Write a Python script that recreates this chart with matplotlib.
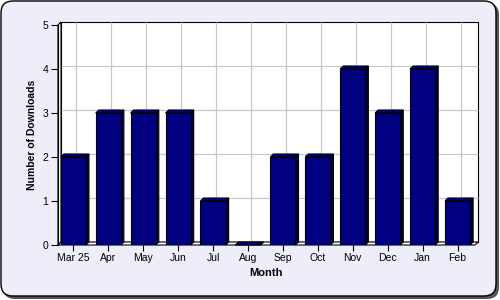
import matplotlib
matplotlib.use('Agg')
import matplotlib.pyplot as plt
from matplotlib.patches import FancyBboxPatch, Polygon, Rectangle
import numpy as np

# Data
months = ['Mar 25', 'Apr', 'May', 'Jun', 'Jul', 'Aug', 'Sep', 'Oct', 'Nov', 'Dec', 'Jan', 'Feb']
downloads = [2, 3, 3, 3, 1, 0, 2, 2, 4, 3, 4, 1]
y_ticks = [0, 1, 2, 3, 4, 5]

plt.rcParams['font.family'] = ['Liberation Sans', 'DejaVu Sans']

fig = plt.figure(figsize=(5, 3), dpi=100)

# rounded panel background with shadow
bg = fig.add_axes([0, 0, 1, 1])
bg.set_xlim(0, 500)
bg.set_ylim(300, 0)
bg.axis('off')
bg.add_patch(FancyBboxPatch((3, 3), 496, 296, boxstyle='round,pad=0,rounding_size=12',
                            fc='#555555', ec='none'))
bg.add_patch(FancyBboxPatch((1, 1), 495, 295, boxstyle='round,pad=0,rounding_size=12',
                            fc='#EEEEFB', ec='black', lw=1))

ax = fig.add_axes([58 / 500, 55 / 300, 417 / 500, 220 / 300])
ax.set_facecolor('none')
x = np.arange(len(months))
x0, x1 = -0.44, len(months) - 0.5
ax.set_xlim(x0, x1)
ax.set_ylim(0, 5)

# 3D depth offset (in data units, ~3px)
dx = 3 / 417 * (x1 - x0)
dy = 3 / 220 * 5

# back wall
ax.add_patch(Rectangle((x0 + dx, dy), x1 - x0, 5, fc='white', ec='black', lw=0.8,
                       zorder=0.5, clip_on=False))
ax.hlines(np.array(y_ticks[1:-1]) + dy, x0 + dx, x1 + dx, color='#C8C8C8', lw=0.9,
          zorder=0.8, clip_on=False)
ax.vlines(x + dx, dy, 5 + dy, color='#C8C8C8', lw=0.9, zorder=0.8, clip_on=False)
# left side wall
ax.add_patch(Polygon([(x0, 0), (x0 + dx, dy), (x0 + dx, 5 + dy), (x0, 5)], closed=True,
                     fc='white', ec='black', lw=0.8, zorder=1.5, clip_on=False))
# floor
ax.add_patch(Polygon([(x0, 0), (x1, 0), (x1 + dx, dy), (x0 + dx, dy)], closed=True,
                     fc='white', ec='black', lw=0.8, zorder=1.6, clip_on=False))

# bars with top and side faces
w = 0.72
ax.bar(x, downloads, width=w, color='#000080', edgecolor='black', lw=0.8, zorder=3)
for xi, h in zip(x, downloads):
    top = [(xi - w / 2, h), (xi + w / 2, h), (xi + w / 2 + dx, h + dy), (xi - w / 2 + dx, h + dy)]
    side = [(xi + w / 2, 0), (xi + w / 2 + dx, dy), (xi + w / 2 + dx, h + dy), (xi + w / 2, h)]
    ax.add_patch(Polygon(side, closed=True, fc='#000040', ec='black', lw=0.8, zorder=2.9,
                         clip_on=False))
    ax.add_patch(Polygon(top, closed=True, fc='#000080', ec='black', lw=0.8, zorder=3.1,
                         clip_on=False))

for s in ['top', 'right', 'bottom']:
    ax.spines[s].set_visible(False)
ax.spines['left'].set_linewidth(0.8)
ax.spines['left'].set_zorder(2)

ax.set_xticks(x)
ax.set_xticklabels(months)
ax.set_yticks(y_ticks)
ax.tick_params(axis='both', labelsize=7.5, length=4, width=0.8, direction='out', pad=2)
ax.tick_params(axis='y', length=5, pad=2)

ax.set_xlabel('Month', fontsize=8, fontweight='bold')
ax.set_ylabel('Number of Downloads', fontsize=7.5, fontweight='bold')
ax.xaxis.set_label_coords(0.5, -0.105)
ax.yaxis.set_label_coords(-0.05, 0.5)

fig.savefig('out.png', dpi=100)
